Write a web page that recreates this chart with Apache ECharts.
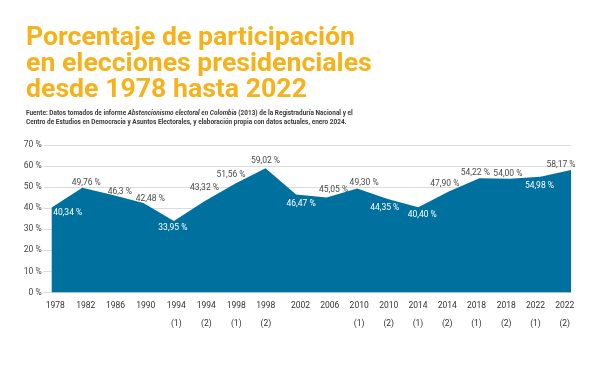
<!DOCTYPE html>
<html>
<head>
<meta charset="utf-8">
<script src="https://cdn.jsdelivr.net/npm/echarts@6/dist/echarts.min.js"></script>
<style>
html,body{margin:0;padding:0;background:#fff;}
#c{width:600px;height:375px;}
</style>
</head>
<body>
<div id="c"></div>
<script>
const years = ['1978','1982','1986','1990','1994','1994','1998','1998','2002','2006','2010','2010','2014','2014','2018','2018','2022','2022'];
const rounds = ['','','','','(1)','(2)','(1)','(2)','','','(1)','(2)','(1)','(2)','(1)','(2)','(1)','(2)'];
const valueTexts = ['40.34','49.76','46.3','42.48','33.95','43.32','51.56','59.02','46.47','45.05','49.30','44.35','40.40','47.90','54.22','54.00','54.98','58.17'];
const values = valueTexts.map(Number);
const yTicks = [0,10,20,30,40,50,60,70];

// label placement (style only): [dx, dy, inside]
const labelPlace = [[16,5,1],[4,-5,0],[7,-3,0],[7,-4,0],[-1,7,1],[0,-13,0],[-4,-9,0],[0,-7,0],[5,9,1],[7,-8,0],[7,-6,0],[-3,9,1],[4,8,1],[-4,-8,0],[-4,-5,0],[-2,-5,0],[-1,9,1],[-10,-5,0]];
// horizontal shift of axis labels (style only)
const tickShift = [3.6,3.5,2.7,2.5,2.4,1.9,1.3,0.3,4.4,3.2,2.0,1.0,-0.3,-1.6,-2.9,-3.7,-5.0,-6.3];

const categories = years.map((y,i)=> rounds[i] ? y + '\n' + rounds[i] : y);

function measure(text, font){
  const c = document.createElement('canvas').getContext('2d');
  c.font = font; return c.measureText(text).width;
}
const titleFont = 'bold 25px Roboto';
const titleScale = 329 / measure('Porcentaje de participación', titleFont);
const subFont = 'bold 7.5px Roboto';
const subScale = 330 / measure('Fuente: Datos tomados de informe Abstencionismo electoral en Colombia (2013) de la Registraduría Nacional y el', subFont);

const rich = {};
tickShift.forEach((s,i)=>{
  rich['s'+i] = {lineHeight: 18, fontSize: 8.5, color:'#333', fontFamily:'Roboto',
    padding: s >= 0 ? [0,0,0,2*s] : [0,-2*s,0,0]};
});

const chart = echarts.init(document.getElementById('c'), null, {renderer:'canvas'});
const seriesData = values.map((v,i)=>({
  value: v,
  label: {
    show: true,
    position: 'inside',
    offset: [labelPlace[i][0], labelPlace[i][1]],
    color: labelPlace[i][2] ? '#ffffff' : '#4a4a4a',
    formatter: valueTexts[i].replace('.', ',') + ' %'
  }
}));

chart.setOption({
  animation: false,
  backgroundColor: '#fff',
  textStyle: {fontFamily: 'Roboto'},
  graphic: [
    {type:'text', left: 26, top: 26, scaleX: titleScale, originX: 0,
     style:{text:'Porcentaje de participación\nen elecciones presidenciales\ndesde 1978 hasta 2022', font: titleFont, fill:'#F6B21A', lineHeight: 26}},
    {type:'text', left: 26, top: 108, scaleX: subScale, originX: 0,
     style:{text:'Fuente: Datos tomados de informe {i|Abstencionismo electoral en Colombia} (2013) de la Registraduría Nacional y el\nCentro de Estudios en Democracia y Asuntos Electorales, y elaboración propia con datos actuales, enero 2024.',
       font: subFont, fill:'#3a3a3a', lineHeight: 9.5,
       rich:{i:{fontStyle:'italic', fontSize:7.5, fontFamily:'Roboto', fontWeight:'bold', fill:'#3a3a3a', lineHeight:9.5}}}}
  ],
  grid: {left: 51.7, right: 29, top: 145, bottom: 82.5, containLabel: false},
  xAxis: {
    type: 'category', data: categories, boundaryGap: false,
    axisLine: {show:false}, axisTick: {show:false},
    axisLabel: {interval: 0, color:'#333', fontSize: 8.5, lineHeight: 18, margin: 4, fontFamily:'Roboto',
      rich: rich,
      formatter: (val, idx) => val.split('\n').map(p => '{s' + idx + '|' + p + '}').join('\n')}
  },
  yAxis: {
    type: 'value', min: 0, max: 70, interval: 10,
    axisLine: {show:false},
    axisTick: {show:true, length: 8, lineStyle:{color:'#dcdcdc'}},
    splitLine: {lineStyle:{color:'#dcdcdc', width:1}},
    axisLabel: {formatter: v => yTicks.includes(v) ? v + ' %' : '', color:'#444', fontSize: 8.5, margin: 10, fontFamily:'Roboto'}
  },
  series: [{
    type: 'line', data: seriesData,
    symbol: 'circle', symbolSize: 0, showSymbol: true,
    lineStyle: {width: 0},
    itemStyle: {color:'#00709E'},
    areaStyle: {color:'#00709E', opacity: 1},
    label: {fontSize: 8.5, fontFamily:'Roboto'},
    z: 3
  }]
});
</script>
</body>
</html>
